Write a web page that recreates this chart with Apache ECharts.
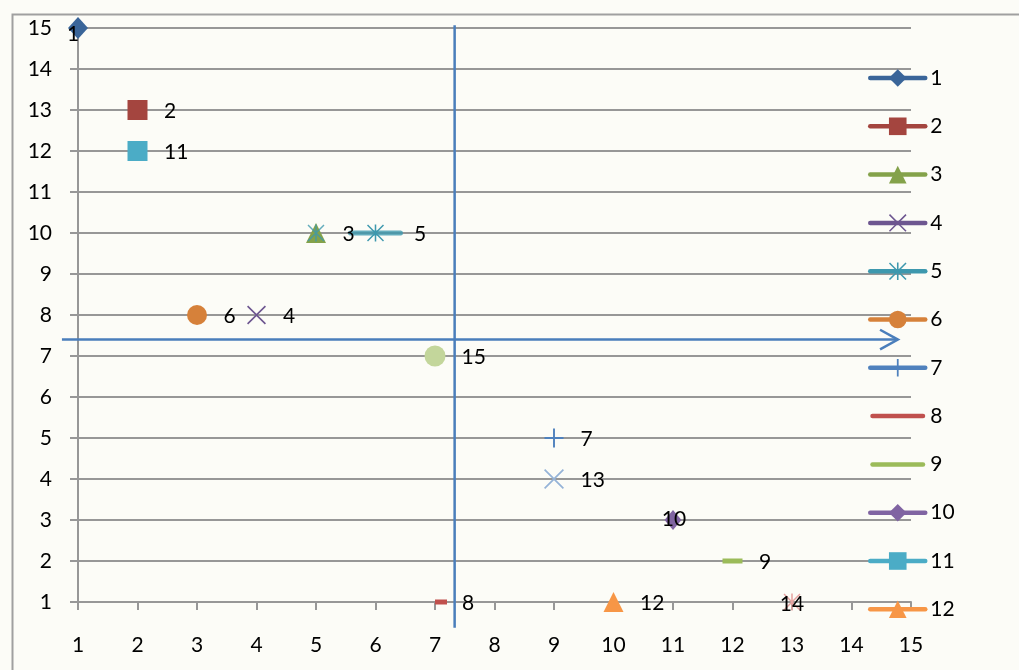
<!DOCTYPE html>
<html>
<head>
<meta charset="utf-8">
<script src="https://cdn.jsdelivr.net/npm/echarts@6/dist/echarts.min.js"></script>
<style>
  html, body { margin: 0; padding: 0; background: #fcfcf7; }
  #chart { width: 1019px; height: 670px; }
</style>
</head>
<body>
<div id="chart"></div>
<script>
// ---- data ----
const seriesNames = ['1', '2', '3', '4', '5', '6', '7', '8', '9', '10', '11', '12', '13', '14', '15'];
const xValues = [1, 2, 5, 4, 6, 3, 9, 7, 12, 11, 2, 10, 9, 13, 7];
const yValues = [15, 13, 10, 8, 10, 8, 5, 1, 2, 3, 12, 1, 4, 1, 7];
// series 5 also has a marker at (5, 10)
const extraX5 = [5];
const extraY5 = [10];
const axisMin = 1;
const axisMax = 15;
const legendNames = ['1', '2', '3', '4', '5', '6', '7', '8', '9', '10', '11', '12'];
// guide lines (in axis units)
const vGuideX = 7.33;
const vGuideY = [15.07, 0.37];
const hGuideY = 7.4;
const hGuideX = [0.73, 14.78];

// ---- styles ----
const FONT = 'Lato, "Open Sans", sans-serif';
const X_PATH = 'path://M0,1.2L1.2,0L10,8.8L18.8,0L20,1.2L11.2,10L20,18.8L18.8,20L10,11.2L1.2,20L0,18.8L8.8,10Z';
const STAR_PATH = X_PATH.replace('Z', 'Z M9.1,0L10.9,0L10.9,20L9.1,20Z');
const PLUS_PATH = 'path://M9,0L11,0L11,9L20,9L20,11L11,11L11,20L9,20L9,11L0,11L0,9L9,9Z';
const BAR_PATH = 'path://M2.25,0L52.75,0A2.25,2.25,0,0,1,52.75,4.5L2.25,4.5A2.25,2.25,0,0,1,2.25,0Z';

const colors = ['#3a6599', '#a4453f', '#84a24a', '#6d5690', '#3d98ae', '#d6813a',
                '#4f81bd', '#c0504d', '#9bbb59', '#8064a2', '#4bacc6', '#f79646',
                '#95b3d7', '#e6a3a1', '#c3d69b'];
const symbols = ['diamond', 'rect', 'triangle', X_PATH, STAR_PATH, 'circle',
                 PLUS_PATH, 'rect', 'rect', 'diamond', 'rect', 'triangle',
                 X_PATH, STAR_PATH, 'circle'];
const sizes = [[20, 22], 20, 20, 19, 17, 20, 19, [12, 5], [20, 5], [17, 20], 20, 20, 20, 17, 21];
const offsets = {7: [6, 0]};
// label placement (distance from marker edge, or inside with offset)
const labelDistance = {4: 30, 7: 15};
const insideLabels = {0: [-5, 6], 9: [1, -1], 13: [0, 2]};

const labelBase = { color: '#000', fontFamily: FONT, fontSize: 21 };

const series = seriesNames.map((name, i) => {
  const s = sizes[i];
  const halfW = (Array.isArray(s) ? s[0] : s) / 2;
  let label;
  if (insideLabels[i]) {
    label = Object.assign({ show: true, position: 'inside', offset: insideLabels[i], formatter: name }, labelBase);
  } else {
    label = Object.assign({
      show: true, position: 'right',
      distance: labelDistance[i] !== undefined ? labelDistance[i] : 26.5 - halfW,
      offset: [0, 1], formatter: name
    }, labelBase);
  }
  return {
    type: 'line',
    name: name,
    data: [[xValues[i], yValues[i]]],
    symbol: symbols[i],
    symbolSize: s,
    symbolOffset: offsets[i] || [0, 0],
    itemStyle: { color: colors[i], borderWidth: 0 },
    lineStyle: { color: colors[i], width: 4.5, cap: 'round' },
    label: label,
    silent: true,
    z: 3
  };
});

// bar drawn under the series 5 marker
series.push({
  type: 'scatter',
  data: [[xValues[4], yValues[4]]],
  symbol: BAR_PATH,
  symbolSize: [55, 5],
  itemStyle: { color: colors[4] },
  silent: true,
  z: 2
});
// extra series 5 marker on top of series 3
series.push({
  type: 'scatter',
  data: extraX5.map((x, k) => [x, extraY5[k]]),
  symbol: STAR_PATH,
  symbolSize: 17,
  itemStyle: { color: colors[4] },
  silent: true,
  z: 4
});

const gray = '#979797';
const axisCommon = {
  type: 'value',
  min: axisMin,
  max: axisMax,
  interval: 1,
  axisLine: { show: true, lineStyle: { color: gray, width: 2 } },
  axisTick: { show: true, length: 8, lineStyle: { color: gray, width: 2 } },
  axisLabel: { color: '#000', fontFamily: FONT, fontSize: 21 }
};

const legendData = legendNames.map(n => (n === '8' || n === '9')
  ? { name: n, icon: BAR_PATH }
  : { name: n });

const frame = {
  id: 'frame',
  type: 'rect',
  left: 10, top: 12,
  shape: { width: 1200, height: 800 },
  style: { fill: 'none', stroke: '#a0a0a0', lineWidth: 2 },
  silent: true,
  z: -1
};

const chart = echarts.init(document.getElementById('chart'), null, { renderer: 'canvas' });
chart.setOption({
  animation: false,
  backgroundColor: '#fcfcf7',
  grid: { left: 78, right: 108, top: 28, bottom: 68, containLabel: false },
  xAxis: Object.assign({}, axisCommon, {
    splitLine: { show: false },
    axisLabel: Object.assign({}, axisCommon.axisLabel, { margin: 33 })
  }),
  yAxis: Object.assign({}, axisCommon, {
    splitLine: { show: true, lineStyle: { color: gray, width: 2 } },
    axisLabel: Object.assign({}, axisCommon.axisLabel, { margin: 26 })
  }),
  legend: {
    type: 'plain',
    orient: 'vertical',
    left: 868,
    top: 67,
    padding: 0,
    itemWidth: 55,
    itemHeight: 22,
    itemGap: 26.3,
    selectedMode: false,
    lineStyle: { width: 4.5, cap: 'round', opacity: 1 },
    textStyle: { color: '#000', fontFamily: FONT, fontSize: 21, lineHeight: 22 },
    data: legendData
  },
  graphic: [frame],
  series: series
});

// guide lines and arrow, placed through the chart's own axis scales
const toPx = (x, y) => chart.convertToPixel({ gridIndex: 0 }, [x, y]);
const guideStyle = { stroke: '#4a7ebb', lineWidth: 2.5, fill: 'none', lineJoin: 'miter' };
const arrowTip = [hGuideX[1], hGuideY];
chart.setOption({
  graphic: [
    frame,
    {
      id: 'vGuide', type: 'polyline', silent: true, z: 50,
      shape: { points: [toPx(vGuideX, vGuideY[0]), toPx(vGuideX, vGuideY[1])] },
      style: guideStyle
    },
    {
      id: 'hGuide', type: 'polyline', silent: true, z: 50,
      shape: { points: [toPx(hGuideX[0], hGuideY), toPx(hGuideX[1], hGuideY)] },
      style: guideStyle
    },
    {
      id: 'arrowHead', type: 'polyline', silent: true, z: 50,
      shape: { points: [
        toPx(arrowTip[0] - 0.3, arrowTip[1] + 0.24),
        toPx(arrowTip[0], arrowTip[1]),
        toPx(arrowTip[0] - 0.3, arrowTip[1] - 0.24)
      ] },
      style: guideStyle
    }
  ]
});
</script>
</body>
</html>
